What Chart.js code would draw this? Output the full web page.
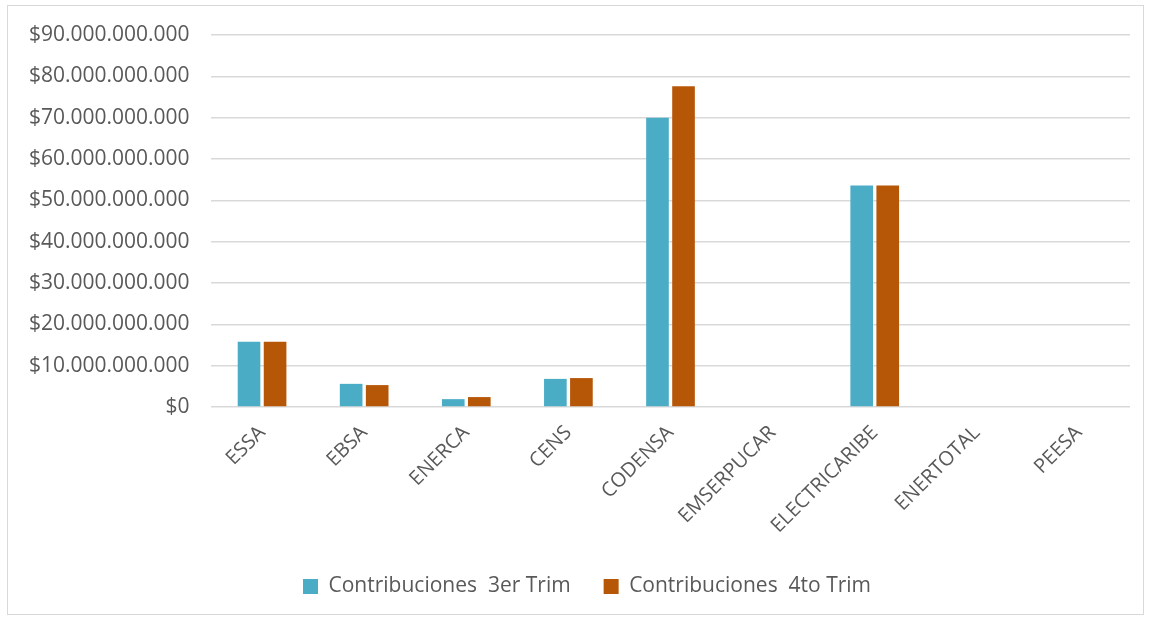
<!DOCTYPE html>
<html>
<head>
<meta charset="utf-8">
<script src="https://cdn.jsdelivr.net/npm/chart.js@4.4.0/dist/chart.umd.min.js"></script>
<style>
    html, body { margin: 0; padding: 0; background: #ffffff; }
    #frame {
        position: absolute;
        left: 7px; top: 5px;
        width: 1135px; height: 608px;
        border: 1px solid #d9d9d9;
    }
    #chart { display: block; }
</style>
</head>
<body>
<div id="frame"><canvas id="chart" width="1135" height="608"></canvas></div>
<script>
// Companies on the x axis
const categories = ['ESSA', 'EBSA', 'ENERCA', 'CENS', 'CODENSA', 'EMSERPUCAR', 'ELECTRICARIBE', 'ENERTOTAL', 'PEESA'];

// Contributions per quarter (pesos)
const trim3 = [15800000000, 5600000000, 1900000000, 6800000000, 70000000000, 0, 53600000000, 0, 0];
const trim4 = [15800000000, 5300000000, 2400000000, 7000000000, 77600000000, 0, 53600000000, 0, 0];

const seriesLabels = ['Contribuciones  3er Trim', 'Contribuciones  4to Trim'];
const yTicks = [0, 10000000000, 20000000000, 30000000000, 40000000000, 50000000000, 60000000000, 70000000000, 80000000000, 90000000000];

// Format like $10.000.000.000
function formatPesos(value) {
    return '$' + String(Math.round(value)).replace(/\B(?=(\d{3})+(?!\d))/g, '.');
}

const FONT = '"Open Sans", "Noto Sans", sans-serif';

// Legend sits a little right of the canvas centre in the original
const legendShift = {
    id: 'legendShift',
    afterLayout(chart) {
        if (chart.legend) {
            chart.legend.left += 18;
            chart.legend.right += 18;
        }
    }
};

new Chart(document.getElementById('chart').getContext('2d'), {
    type: 'bar',
    data: {
        labels: categories,
        datasets: [{
            label: seriesLabels[0],
            data: trim3,
            backgroundColor: '#4bacc6',
            categoryPercentage: 0.51,
            barPercentage: 0.87
        }, {
            label: seriesLabels[1],
            data: trim4,
            backgroundColor: '#b65708',
            categoryPercentage: 0.51,
            barPercentage: 0.87
        }]
    },
    plugins: [legendShift],
    options: {
        responsive: false,
        animation: false,
        layout: {
            padding: { top: 29, right: 13, bottom: 7, left: 0 }
        },
        plugins: {
            legend: {
                position: 'bottom',
                labels: {
                    boxWidth: 15,
                    boxHeight: 15,
                    padding: 33,
                    color: '#595959',
                    font: { family: FONT, size: 21 }
                }
            },
            tooltip: { enabled: false }
        },
        scales: {
            x: {
                grid: { display: false, drawTicks: false },
                border: { display: false },
                ticks: {
                    color: '#595959',
                    font: { family: FONT, size: 20 },
                    maxRotation: 45,
                    minRotation: 45,
                    padding: 14
                },
                afterFit: function(scale) { scale.height = 136; }
            },
            y: {
                min: 0,
                max: 90000000000,
                afterBuildTicks: function(scale) {
                    scale.ticks = yTicks.map(v => ({ value: v }));
                },
                grid: { color: '#d9d9d9', lineWidth: 1.5, drawTicks: false },
                border: { display: false },
                ticks: {
                    color: '#595959',
                    font: { family: FONT, size: 21 },
                    padding: 16,
                    // trailing space keeps the labels clear of the plot
                    callback: function(value) { return formatPesos(value) + ' '; }
                },
                afterFit: function(scale) { scale.width = 203; }
            }
        }
    }
});
</script>
</body>
</html>
